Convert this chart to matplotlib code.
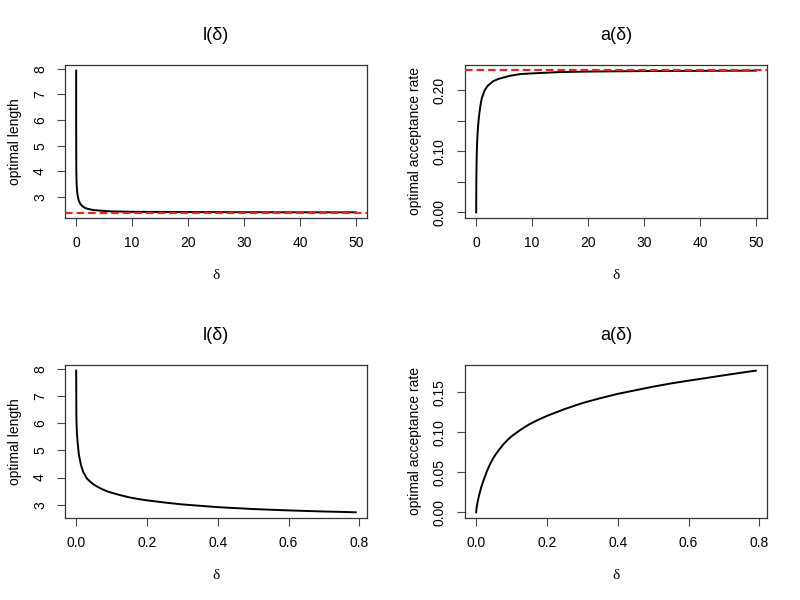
import matplotlib
matplotlib.use('Agg')
import matplotlib.pyplot as plt

plt.rcParams['font.family'] = ['Liberation Sans', 'DejaVu Sans']

# delta grid and curves
delta = [0, 0.0005, 0.001, 0.002, 0.004, 0.0075, 0.0133, 0.02, 0.03, 0.04,
         0.05, 0.06, 0.075, 0.09, 0.1, 0.125, 0.15, 0.175, 0.2, 0.25,
         0.3, 0.35, 0.4, 0.45, 0.5, 0.55, 0.6, 0.65, 0.7, 0.75, 0.79,
         1.0, 1.5, 2, 3, 4, 6, 8, 10, 15, 20, 30, 40, 50]
opt_len = [7.93, 6.3, 6.0, 5.65, 5.3, 4.85, 4.47, 4.2, 3.97, 3.84,
           3.74, 3.66, 3.56, 3.48, 3.44, 3.35, 3.27, 3.21, 3.16, 3.08,
           3.01, 2.96, 2.91, 2.875, 2.84, 2.815, 2.79, 2.77, 2.75, 2.735, 2.72,
           2.66, 2.58, 2.54, 2.49, 2.47, 2.44, 2.43, 2.42, 2.415, 2.41, 2.405, 2.40, 2.40]
opt_acc = [0.0, 0.003, 0.005, 0.008, 0.013, 0.020, 0.030, 0.039, 0.051, 0.061,
           0.069, 0.0755, 0.084, 0.091, 0.095, 0.103, 0.110, 0.1155, 0.1205, 0.129,
           0.1365, 0.1425, 0.148, 0.1525, 0.157, 0.161, 0.1645, 0.1678, 0.1712, 0.1745, 0.177,
           0.187, 0.200, 0.207, 0.215, 0.219, 0.224, 0.227, 0.228, 0.2302, 0.231, 0.2318, 0.2322, 0.2325]
n_small = 31  # first points, delta <= 0.79

len_limit = 2.38
acc_limit = 0.234

xticks_big = [0, 10, 20, 30, 40, 50]
xticks_small = [0.0, 0.2, 0.4, 0.6, 0.8]
len_ticks = [3, 4, 5, 6, 7, 8]
acc_ticks_big = [0.00, 0.05, 0.10, 0.15, 0.20]
acc_ticks_big_lbl = ['0.00', '', '0.10', '', '0.20']
acc_ticks_small = [0.00, 0.05, 0.10, 0.15]

fig = plt.figure(figsize=(8, 6), dpi=100)
W, H = 0.3775, 0.255
ax1 = fig.add_axes([0.08125, 0.6367, W, H])
ax2 = fig.add_axes([0.58125, 0.6367, W, H])
ax3 = fig.add_axes([0.08125, 0.1367, W, H])
ax4 = fig.add_axes([0.58125, 0.1367, W, H])


def r_style(ax, x, y, title, ylabel):
    ax.plot(x, y, color='black', lw=1.4, zorder=3)
    lo, hi = min(y), max(y)
    pad = 0.04 * (hi - lo)
    ax.set_ylim(lo - pad, hi + pad)
    xl, xh = min(x), max(x)
    xp = 0.04 * (xh - xl)
    ax.set_xlim(xl - xp, xh + xp)
    ax.set_title(title, fontsize=13, pad=18)
    ax.set_xlabel('δ', fontsize=11, family='Liberation Serif', labelpad=14)
    ax.set_ylabel(ylabel, fontsize=10, labelpad=8)
    ax.tick_params(axis='both', labelsize=10, length=6, width=0.8, pad=7, color='#444444')
    for s in ax.spines.values():
        s.set_linewidth(0.9)
        s.set_color('#333333')


r_style(ax1, delta, opt_len, 'l(δ)', 'optimal length')
ax1.axhline(len_limit, color='#ee2222', lw=1.6, ls=(0, (3.4, 1.8)), zorder=4)
ax1.set_xticks(xticks_big)
ax1.set_yticks(len_ticks)

r_style(ax2, delta, opt_acc, 'a(δ)', 'optimal acceptance rate')
ax2.axhline(acc_limit, color='#ee2222', lw=1.6, ls=(0, (3.4, 1.8)), zorder=4)
ax2.set_xticks(xticks_big)
ax2.set_yticks(acc_ticks_big)
ax2.set_yticklabels(acc_ticks_big_lbl)

r_style(ax3, delta[:n_small], opt_len[:n_small], 'l(δ)', 'optimal length')
ax3.set_xticks(xticks_small)
ax3.set_xticklabels([f'{v:.1f}' for v in xticks_small])
ax3.set_yticks(len_ticks)

r_style(ax4, delta[:n_small], opt_acc[:n_small], 'a(δ)', 'optimal acceptance rate')
ax4.set_xticks(xticks_small)
ax4.set_xticklabels([f'{v:.1f}' for v in xticks_small])
ax4.set_yticks(acc_ticks_small)
ax4.set_yticklabels([f'{v:.2f}' for v in acc_ticks_small])

for ax in (ax1, ax2, ax3, ax4):
    for lbl in ax.get_yticklabels():
        lbl.set_rotation(90)
        lbl.set_va('center')

fig.savefig('out.png', dpi=100, facecolor='white')
plt.close(fig)
